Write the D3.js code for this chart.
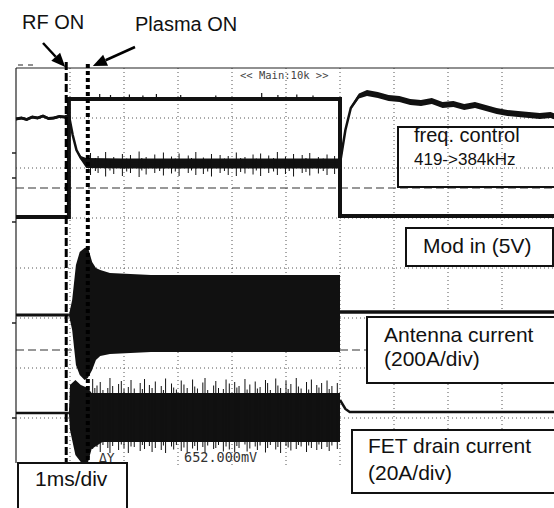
<!DOCTYPE html>
<html><head><meta charset="utf-8">
<script src="https://cdn.jsdelivr.net/npm/d3@7"></script>
<style>html,body{margin:0;padding:0;background:#fff;}svg{display:block;}</style>
</head><body>
<script>
// ---------- data (time in ms, amplitude in divisions, 0 = screen centre) ----------
const timeTicks = [1,2,3,4,5,6,7,8,9];
const levelTicks = [-3,-2,-1,0,1,2,3];
const refLevels = [1.6, -1.64];
const channelMarks = [2.3, 1.8, 0.92, -1.1, -3.0];
const rfOnTime = 0.93;
const plasmaOnTime = 1.33;

// freq control (ch1)
const freqT      = [0,0.1,0.2,0.3,0.4,0.5,0.6,0.7,0.8,0.9,0.98,1.05,1.12,1.2,1.3,2,3,4,5,6.0,6.1,6.2,6.35,6.5,6.7,6.9,7.1,7.3,7.5,7.7,7.9,8.1,8.3,8.5,8.7,8.9,9.1,9.3,9.5,9.7,9.9,10];
const freqV      = [2.98,3.0,2.97,3.02,3.0,3.04,2.99,3.0,3.03,3.02,3.05,2.66,2.36,2.2,2.1,2.09,2.09,2.09,2.09,2.09,2.76,3.2,3.44,3.5,3.46,3.4,3.38,3.32,3.3,3.34,3.26,3.28,3.22,3.26,3.2,3.14,3.1,3.08,3.06,3.04,3.06,3.02];
const freqSpread = [0.03,0.03,0.03,0.03,0.03,0.03,0.03,0.03,0.03,0.03,0.03,0.02,0.02,0.04,0.1,0.1,0.1,0.1,0.1,0.1,0.03,0.03,0.05,0.06,0.06,0.06,0.06,0.06,0.06,0.06,0.06,0.06,0.06,0.06,0.06,0.06,0.06,0.06,0.06,0.06,0.06,0.06];
const freqSpikeT  = [1.38,1.47,1.52,1.66,1.74,1.81,1.97,2.05,2.12,2.28,2.33,2.41,2.57,2.66,2.73,2.88,2.95,3.02,3.19,3.25,3.33,3.47,3.55,3.62,3.78,3.86,3.93,4.08,4.16,4.24,4.39,4.45,4.53,4.68,4.77,4.84,4.99,5.06,5.14,5.3,5.37,5.44,5.6,5.69,5.76,5.9];
const freqSpikeHi = [2.3,2.2,2.24,2.32,2.18,2.22,2.28,2.19,2.26,2.33,2.2,2.22,2.27,2.18,2.31,2.23,2.19,2.29,2.25,2.2,2.32,2.21,2.18,2.28,2.26,2.19,2.24,2.31,2.2,2.22,2.27,2.19,2.29,2.25,2.2,2.32,2.23,2.18,2.28,2.26,2.2,2.3,2.22,2.19,2.27,2.24];
const freqSpikeLo = [1.86,1.94,1.9,1.83,1.95,1.88,1.84,1.93,1.9,1.82,1.95,1.87,1.9,1.94,1.85,1.89,1.93,1.84,1.9,1.95,1.86,1.88,1.93,1.83,1.9,1.94,1.86,1.84,1.92,1.89,1.87,1.95,1.84,1.9,1.93,1.86,1.88,1.94,1.83,1.9,1.92,1.85,1.89,1.94,1.86,1.88];

// Mod in (ch2)
const modT = [0,0.98,0.98,6.0,6.0,10];
const modV = [1.02,1.02,3.38,3.38,1.04,1.04];
const modSpikeT = [1.55,1.75,2.1,2.35,2.6,3.05,3.7,4.55,4.85,5.2,5.5];
const modSpikeV = [3.48,3.46,3.47,3.45,3.48,3.46,3.45,3.5,3.46,3.47,3.45];

// Antenna current (ch3) envelope
const antT   = [0,0.98,1.04,1.11,1.18,1.27,1.33,1.41,1.48,1.56,1.74,2.5,4,6.0];
const antTop = [-0.94,-0.94,-0.64,0.06,0.32,0.40,0.42,0.12,0.0,-0.04,-0.1,-0.14,-0.14,-0.14];
const antBot = [-0.94,-0.94,-1.24,-1.94,-2.14,-2.24,-2.2,-2.04,-1.84,-1.76,-1.72,-1.68,-1.68,-1.68];
const antAfterT = [6.0,10];
const antAfterV = [-0.88,-0.88];

// FET drain current (ch4)
const fetBaseT = [0,0.98];
const fetBaseV = [-2.9,-2.9];
const fetT   = [0.98,1.0,1.1,1.2,1.33,1.4,1.6,3,6.0];
const fetTop = [-2.9,-2.34,-2.24,-2.34,-2.4,-2.5,-2.5,-2.5,-2.5];
const fetBot = [-2.9,-3.24,-3.74,-3.88,-3.9,-3.62,-3.48,-3.48,-3.48];
const fetAfterT = [6.0,6.1,6.18,10];
const fetAfterV = [-2.64,-2.82,-2.88,-2.88];
const fetSpikeT  = [1.42,1.46,1.5,1.56,1.61,1.7,1.74,1.79,1.9,1.95,2.0,2.08,2.13,2.19,2.3,2.34,2.38,2.47,2.52,2.58,2.69,2.73,2.77,2.88,2.92,2.97,3.06,3.11,3.17,3.27,3.31,3.36,3.46,3.5,3.55,3.66,3.7,3.75,3.84,3.89,3.95,4.05,4.09,4.13,4.24,4.28,4.33,4.43,4.47,4.52,4.62,4.66,4.71,4.81,4.85,4.9,5.0,5.04,5.09,5.19,5.23,5.28,5.38,5.42,5.47,5.57,5.61,5.66,5.76,5.8,5.85,5.95];
const fetSpikeHi = [-2.22,-2.4,-2.35,-2.28,-2.44,-2.4,-2.2,-2.36,-2.32,-2.26,-2.42,-2.38,-2.24,-2.41,-2.3,-2.42,-2.22,-2.34,-2.4,-2.27,-2.36,-2.44,-2.21,-2.31,-2.39,-2.43,-2.25,-2.33,-2.4,-2.23,-2.37,-2.41,-2.29,-2.2,-2.44,-2.35,-2.26,-2.4,-2.42,-2.23,-2.31,-2.28,-2.39,-2.36,-2.22,-2.43,-2.33,-2.27,-2.41,-2.38,-2.24,-2.3,-2.44,-2.21,-2.35,-2.4,-2.26,-2.42,-2.32,-2.2,-2.37,-2.41,-2.28,-2.43,-2.23,-2.34,-2.39,-2.3,-2.25,-2.42,-2.36,-2.3];
const fetSpikeLo = [-3.62,-3.55,-3.58,-3.68,-3.54,-3.6,-3.7,-3.56,-3.64,-3.53,-3.6,-3.7,-3.57,-3.58,-3.66,-3.54,-3.62,-3.56,-3.68,-3.6,-3.64,-3.55,-3.7,-3.57,-3.63,-3.54,-3.66,-3.59,-3.69,-3.61,-3.56,-3.65,-3.58,-3.7,-3.55,-3.62,-3.6,-3.54,-3.67,-3.57,-3.63,-3.69,-3.56,-3.6,-3.53,-3.67,-3.61,-3.57,-3.64,-3.55,-3.69,-3.6,-3.54,-3.63,-3.58,-3.7,-3.56,-3.59,-3.65,-3.62,-3.54,-3.57,-3.68,-3.55,-3.6,-3.64,-3.53,-3.62,-3.58,-3.66,-3.55,-3.62];

// ---------- drawing ----------
const W = 554, H = 508;
const x = d3.scaleLinear().domain([0,10]).range([16,556]);
const y = d3.scaleLinear().domain([-4,4]).range([468,68]);
const svg = d3.select("body").append("svg").attr("width",W).attr("height",H);
svg.append("rect").attr("width",W).attr("height",H).attr("fill","#fff");
const FONT = "'Liberation Sans', Arial, sans-serif";
const MONO = "'DejaVu Sans Mono', 'Liberation Mono', monospace";

// grid
const g = svg.append("g");
g.selectAll(".vg").data(timeTicks).join("line")
  .attr("x1",d=>x(d)).attr("x2",d=>x(d)).attr("y1",y(4)).attr("y2",y(-4))
  .attr("stroke","#555").attr("stroke-width",1).attr("stroke-dasharray","1,3");
g.selectAll(".hg").data(levelTicks).join("line")
  .attr("x1",x(0)).attr("x2",x(10)).attr("y1",d=>y(d)).attr("y2",d=>y(d))
  .attr("stroke","#555").attr("stroke-width",1).attr("stroke-dasharray","1,3");
g.selectAll(".rl").data(refLevels).join("line")
  .attr("x1",x(0)).attr("x2",x(10)).attr("y1",d=>y(d)).attr("y2",d=>y(d))
  .attr("stroke","#333").attr("stroke-width",1.2).attr("stroke-dasharray","8,4");
// border
g.append("line").attr("x1",x(0)).attr("x2",x(10)).attr("y1",y(4)).attr("y2",y(4)).attr("stroke","#222").attr("stroke-width",1.2);
g.append("line").attr("x1",x(0)).attr("x2",x(0)).attr("y1",y(4)).attr("y2",463).attr("stroke","#222").attr("stroke-width",1.2);
g.selectAll(".cm").data(channelMarks).join("line")
  .attr("x1",x(0)-4).attr("x2",x(0)).attr("y1",d=>y(d)).attr("y2",d=>y(d))
  .attr("stroke","#222").attr("stroke-width",1.5);
g.append("line").attr("x1",18).attr("x2",34).attr("y1",65).attr("y2",65)
  .attr("stroke","#222").attr("stroke-width",1.2).attr("stroke-dasharray","5,5");

const line = d3.line().x(d=>x(d[0])).y(d=>y(d[1]));
const area = d3.area().x(d=>x(d[0])).y0(d=>y(d[1])).y1(d=>y(d[2]));
const zip = (a,b)=>a.map((t,i)=>[t,b[i]]);

// freq control
svg.append("path").datum(freqT.map((t,i)=>[t,freqV[i]-freqSpread[i],freqV[i]+freqSpread[i]]))
  .attr("d",area).attr("fill","#111");
svg.append("path").datum(zip(freqT,freqV)).attr("d",line).attr("fill","none").attr("stroke","#111").attr("stroke-width",2.5);
svg.selectAll(".fs").data(freqSpikeT.map((t,i)=>[t,freqSpikeHi[i],freqSpikeLo[i]])).join("line")
  .attr("x1",d=>x(d[0])).attr("x2",d=>x(d[0])).attr("y1",d=>y(d[1])).attr("y2",d=>y(d[2]))
  .attr("stroke","#111").attr("stroke-width",1);

// mod in
svg.append("path").datum(zip(modT,modV)).attr("d",line).attr("fill","none").attr("stroke","#111").attr("stroke-width",4);
svg.selectAll(".ms").data(zip(modSpikeT,modSpikeV)).join("line")
  .attr("x1",d=>x(d[0])).attr("x2",d=>x(d[0])).attr("y1",d=>y(d[1])).attr("y2",y(3.38))
  .attr("stroke","#111").attr("stroke-width",1.2);

// antenna current
svg.append("path").datum(antT.map((t,i)=>[t,antBot[i],antTop[i]])).attr("d",area).attr("fill","#111");
svg.append("path").datum(zip([0,0.98],[-0.94,-0.94])).attr("d",line).attr("fill","none").attr("stroke","#111").attr("stroke-width",3);
svg.append("path").datum(zip(antAfterT,antAfterV)).attr("d",line).attr("fill","none").attr("stroke","#111").attr("stroke-width",3.5);

// FET drain current
svg.append("path").datum(fetT.map((t,i)=>[t,fetBot[i],fetTop[i]])).attr("d",area).attr("fill","#111");
svg.selectAll(".fe").data(fetSpikeT.map((t,i)=>[t,fetSpikeHi[i],fetSpikeLo[i]])).join("line")
  .attr("x1",d=>x(d[0])).attr("x2",d=>x(d[0])).attr("y1",d=>y(d[1])).attr("y2",d=>y(d[2]))
  .attr("stroke","#111").attr("stroke-width",1);
svg.append("path").datum(zip(fetBaseT,fetBaseV)).attr("d",line).attr("fill","none").attr("stroke","#111").attr("stroke-width",2.5);
svg.append("path").datum(zip(fetAfterT,fetAfterV)).attr("d",line).attr("fill","none").attr("stroke","#111").attr("stroke-width",2.5);

// RF ON / Plasma ON markers
svg.append("line").attr("x1",x(rfOnTime)).attr("x2",x(rfOnTime)).attr("y1",62).attr("y2",463)
  .attr("stroke","#000").attr("stroke-width",3).attr("stroke-dasharray","8,3");
svg.append("line").attr("x1",x(plasmaOnTime)).attr("x2",x(plasmaOnTime)).attr("y1",64).attr("y2",468)
  .attr("stroke","#000").attr("stroke-width",4).attr("stroke-dasharray","4,3");

// arrows
function arrow(x1,y1,x2,y2){
  const a = Math.atan2(y2-y1,x2-x1), L = 14, Wd = 6;
  const bx = x2 - L*Math.cos(a), by = y2 - L*Math.sin(a);
  svg.append("line").attr("x1",x1).attr("y1",y1).attr("x2",bx).attr("y2",by).attr("stroke","#000").attr("stroke-width",2.5);
  svg.append("path").attr("d",`M${x2},${y2}L${bx+Wd*Math.sin(a)},${by-Wd*Math.cos(a)}L${bx-Wd*Math.sin(a)},${by+Wd*Math.cos(a)}Z`).attr("fill","#000");
}
arrow(43,43,x(rfOnTime)-1,67);
arrow(135,47,x(plasmaOnTime)+5,66);

// boxes
function box(x0,y0,x1,y1,fill){
  svg.append("rect").attr("x",x0).attr("y",y0).attr("width",x1-x0).attr("height",y1-y0)
    .attr("fill",fill).attr("stroke","#111").attr("stroke-width",2);
}
box(398,127,560,187,"none");
box(406,228,553,266,"#fff");
box(367,317,560,383,"#fff");
box(352,430,560,493,"#fff");
box(18,463,127,512,"#fff");

function txt(s,tx,ty,size,font,fill){
  svg.append("text").attr("x",tx).attr("y",ty).attr("font-family",font||FONT).attr("font-size",size)
    .attr("fill",fill||"#111").text(s);
}
txt("RF ON",22,29,20);
txt("Plasma ON",135,31,20);
txt("freq. control",414,142,20);
txt("419->384kHz",414,165,17);
txt("Mod in (5V)",423,253,21);
txt("Antenna current",384,342,21);
txt("(200A/div)",384,366,21);
txt("FET drain current",368,453,21);
txt("(20A/div)",368,480,21);
txt("1ms/div",35,486,21);
txt("<< Main:10k >>",240,79,10.5,MONO,"#444");
txt("ΔY",99,462,13,MONO,"#333");
txt("652.000mV",184,462,13.5,MONO,"#333");
</script>
</body></html>
